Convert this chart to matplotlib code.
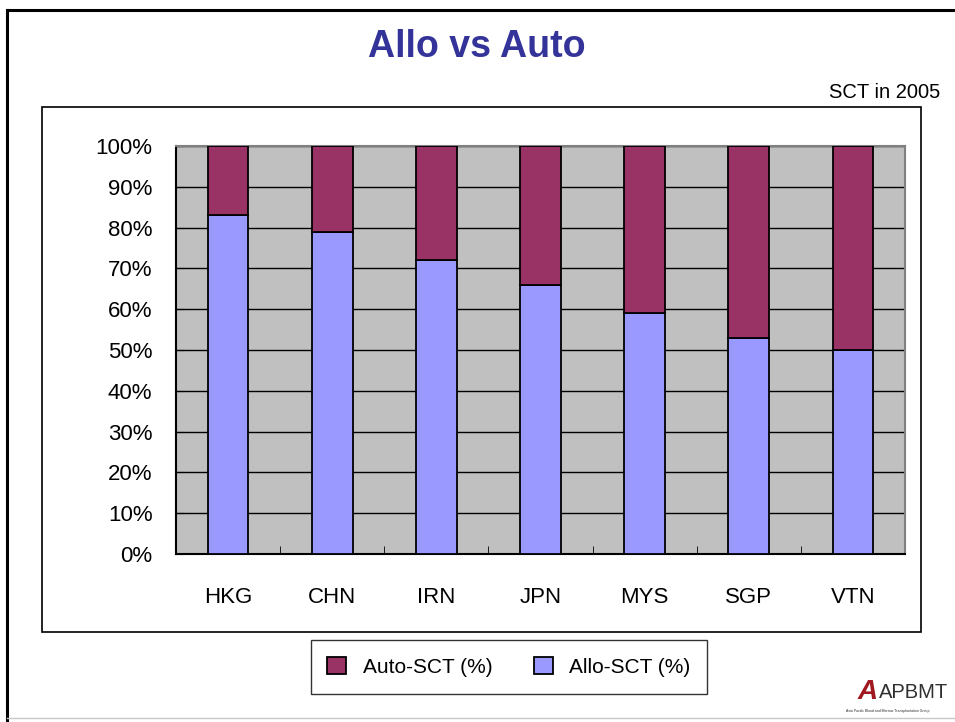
import matplotlib
matplotlib.use('Agg')
import matplotlib.pyplot as plt
from matplotlib.patches import Rectangle, Patch
from matplotlib.lines import Line2D
from matplotlib.ticker import FuncFormatter, MultipleLocator
import numpy as np

plt.rcParams['font.family'] = ['Liberation Sans', 'DejaVu Sans']

countries = ['HKG', 'CHN', 'IRN', 'JPN', 'MYS', 'SGP', 'VTN']
allo_pct = [83, 79, 72, 66, 59, 53, 50]
auto_pct = [17, 21, 28, 34, 41, 47, 50]

W, H = 955, 722
fig = plt.figure(figsize=(W / 100, H / 100), dpi=100)


def fx(px):
    return px / W


def fy(py):
    return 1 - py / H


# slide border
fig.add_artist(Line2D([fx(7), fx(7)], [fy(10), fy(722)], color='black', lw=2.2))
fig.add_artist(Line2D([fx(7), fx(955)], [fy(10), fy(10)], color='black', lw=2.2))
fig.add_artist(Line2D([fx(7), fx(955)], [fy(718), fy(718)], color='#c8c8c8', lw=1))

# chart frame
fig.add_artist(Rectangle((fx(42), fy(632)), fx(921 - 42), (632 - 107) / H,
                         transform=fig.transFigure, fill=False, ec='black', lw=1.2))

fig.text(fx(477), fy(47), 'Allo vs Auto', ha='center', va='center',
         fontsize=27, fontweight='bold', color='#333399')
fig.text(fx(940), fy(93), 'SCT in 2005', ha='right', va='center', fontsize=14.5)

ax = fig.add_axes([fx(176), fy(554), fx(905 - 176), (554 - 146) / H])
ax.set_facecolor('#C0C0C0')
x = np.arange(len(countries))
ax.bar(x, allo_pct, width=0.39, color='#9999FF', edgecolor='black', lw=1.3, zorder=3)
ax.bar(x, auto_pct, bottom=allo_pct, width=0.39, color='#993366', edgecolor='black',
       lw=1.3, zorder=3)

ax.set_xlim(-0.5, len(countries) - 0.5)
ax.set_ylim(0, 100)
ax.yaxis.set_major_locator(MultipleLocator(10))
ax.yaxis.set_major_formatter(FuncFormatter(lambda v, p: '%d%%' % v))
ax.yaxis.grid(True, color='black', lw=1)
ax.set_axisbelow(True)
ax.set_xticks(x)
ax.set_xticklabels(countries)
ax.set_xticks(np.arange(0.5, len(countries) - 0.5), minor=True)
ax.tick_params(axis='x', which='major', length=0, pad=24, labelsize=16)
ax.tick_params(axis='x', which='minor', direction='in', length=6, color='black')
ax.tick_params(axis='y', direction='in', length=6, pad=17, labelsize=16)
for side in ['left', 'bottom']:
    ax.spines[side].set_color('black')
    ax.spines[side].set_linewidth(1.5)
for side in ['top', 'right']:
    ax.spines[side].set_color('#808080')
    ax.spines[side].set_linewidth(1.5)

handles = [Patch(facecolor='#993366', edgecolor='black', lw=1.3, label='Auto-SCT (%)'),
           Patch(facecolor='#9999FF', edgecolor='black', lw=1.3, label='Allo-SCT (%)')]
leg = fig.legend(handles=handles, loc='center', bbox_to_anchor=(fx(509), fy(667)),
                 ncol=2, fontsize=15, frameon=True, fancybox=False, edgecolor='black',
                 handlelength=0.9, handleheight=0.9, columnspacing=2.0,
                 borderpad=0.8, handletextpad=0.8)
leg.get_frame().set_linewidth(1.0)

# logo
fig.text(fx(878), fy(692), 'A', ha='right', va='center', fontsize=20,
         fontweight='bold', style='italic', color='#a01820')
fig.text(fx(879), fy(692), 'APBMT', ha='left', va='center', fontsize=14.5,
         color='#303030')
fig.text(fx(888), fy(711), 'Asia Pacific Blood and Marrow Transplantation Group',
         ha='center', va='center', fontsize=2.5, color='#303030')

fig.savefig('out.png', dpi=100)
